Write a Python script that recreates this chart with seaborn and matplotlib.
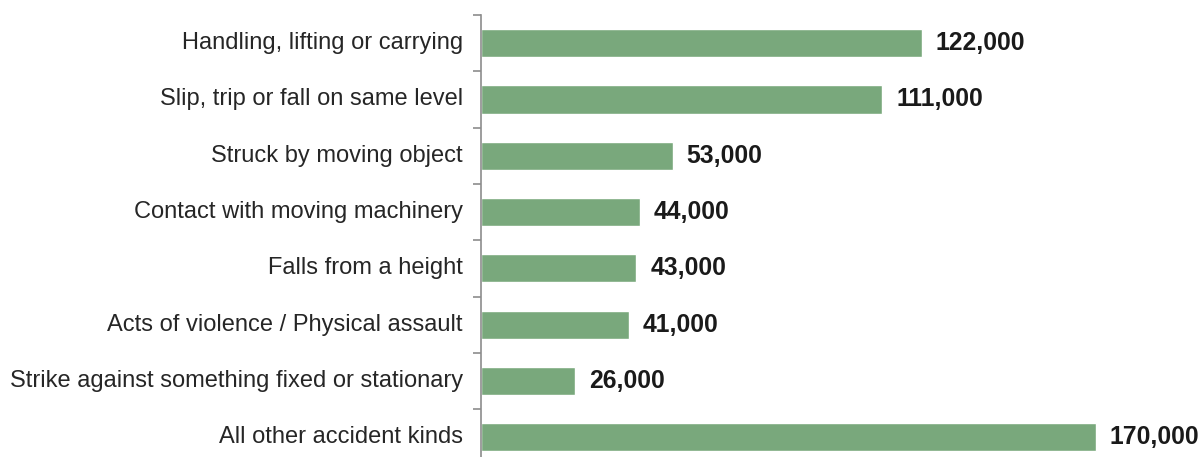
import matplotlib
matplotlib.use("Agg")
import matplotlib.pyplot as plt
import seaborn as sns
import pandas as pd

categories = [
    "Handling, lifting or carrying",
    "Slip, trip or fall on same level",
    "Struck by moving object",
    "Contact with moving machinery",
    "Falls from a height",
    "Acts of violence / Physical assault",
    "Strike against something fixed or stationary",
    "All other accident kinds",
]
injuries = [122000, 111000, 53000, 44000, 43000, 41000, 26000, 170000]

df = pd.DataFrame({"kind": categories, "injuries": injuries})

sns.set_style("white")
plt.rcParams["font.family"] = ["Liberation Sans", "DejaVu Sans"]

fig = plt.figure(figsize=(11.99, 4.57), dpi=100)
ax = fig.add_axes([481 / 1199, 0.0, 1 - 481 / 1199, 1 - 15 / 457])

sns.barplot(data=df, x="injuries", y="kind", orient="h", color="#79A87C",
            saturation=1, width=0.5, ax=ax)

# value labels
for i, v in enumerate(injuries):
    ax.annotate(f"{v:,}", xy=(v, i), xytext=(10, 0), textcoords="offset points",
                va="center", ha="left", fontsize=17.8, fontweight="bold", color="#1a1a1a")

# category labels placed manually, ticks at row boundaries
ax.set_yticks([i + 0.5 for i in range(-1, 8)])
ax.set_yticklabels([])
ax.tick_params(axis="y", which="major", length=6, width=1.2, color="#8c8c8c", left=True, direction="out")
for i, c in enumerate(categories):
    ax.annotate(c, xy=(0, i), xytext=(-13, 0), textcoords="offset points",
                va="center", ha="right", fontsize=17, color="#262626",
                annotation_clip=False)

ax.set_xticks([])
ax.set_xlabel("")
ax.set_ylabel("")
ax.set_xlim(0, 198600)
ax.set_ylim(7.35, -0.5)
for s in ["top", "right", "bottom"]:
    ax.spines[s].set_visible(False)
ax.spines["left"].set_color("#8c8c8c")
ax.spines["left"].set_linewidth(1.2)

fig.savefig("out.png", dpi=100)
